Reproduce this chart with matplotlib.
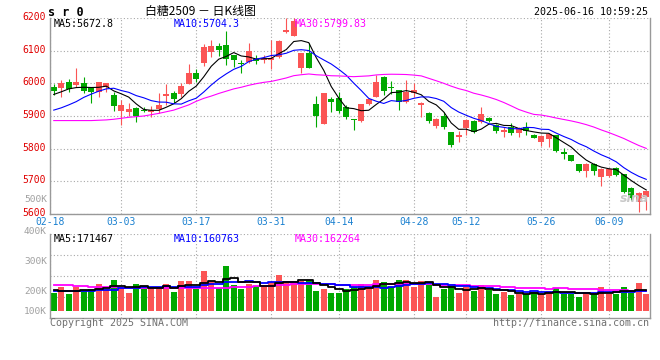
import numpy as np
import pandas as pd
import matplotlib
matplotlib.use("Agg")
import matplotlib.pyplot as plt
import matplotlib.transforms as mtrans

# ---------------- data ----------------
opens = [5990, 5987, 6003, 5996, 6001, 5988, 5972, 5988, 5964, 5915,
         5913, 5923, 5919, 5913, 5920, 5962, 5969, 5966, 5997, 6033,
         6062, 6097, 6115, 6117, 6087, 6063, 6064, 6076, 6071, 6072,
         6082, 6158, 6145, 6046, 6092, 5937, 5875, 5951, 5954, 5928,
         5892, 5886, 5937, 5959, 6019, 5989, 5980, 5944, 5969, 5933,
         5908, 5869, 5900, 5852, 5835, 5862, 5885, 5881, 5893, 5871,
         5852, 5867, 5849, 5865, 5842, 5819, 5830, 5842, 5790, 5780,
         5753, 5733, 5753, 5714, 5717, 5741, 5723, 5679, 5638, 5651]
highs = [5997, 6010, 6012, 6046, 6019, 5988, 6004, 6000, 5974, 5949,
         5939, 5928, 5928, 5932, 5969, 5997, 5976, 6002, 6059, 6043,
         6120, 6133, 6122, 6160, 6087, 6071, 6122, 6087, 6087, 6133,
         6133, 6200, 6200, 6092, 6122, 5961, 5969, 5959, 5974, 5934,
         5892, 5937, 5951, 6025, 6022, 6008, 5980, 6010, 6000, 5944,
         5913, 5893, 5913, 5852, 5855, 5890, 5888, 5929, 5898, 5875,
         5867, 5879, 5867, 5883, 5845, 5842, 5847, 5842, 5801, 5782,
         5753, 5755, 5755, 5740, 5740, 5743, 5723, 5684, 5668, 5670]
lows = [5964, 5959, 5975, 5990, 5969, 5941, 5959, 5972, 5915, 5872,
        5900, 5883, 5913, 5896, 5908, 5934, 5939, 5959, 5997, 6003,
        6053, 6082, 6085, 6055, 6051, 6032, 6061, 6059, 6062, 6043,
        6079, 6153, 6145, 6032, 6046, 5865, 5875, 5913, 5908, 5890,
        5857, 5883, 5934, 5957, 5964, 5968, 5918, 5939, 5959, 5896,
        5878, 5864, 5860, 5804, 5821, 5842, 5847, 5878, 5883, 5849,
        5837, 5842, 5835, 5842, 5832, 5808, 5804, 5791, 5769, 5762,
        5728, 5712, 5719, 5686, 5714, 5716, 5665, 5643, 5607, 5612]
closes = [5976, 6001, 5982, 6004, 5977, 5972, 6004, 6000, 5931, 5933,
          5921, 5900, 5915, 5918, 5933, 5968, 5953, 5993, 6031, 6013,
          6110, 6114, 6102, 6073, 6072, 6058, 6099, 6069, 6078, 6077,
          6130, 6163, 6192, 6092, 6046, 5900, 5969, 5944, 5916, 5896,
          5888, 5937, 5951, 6005, 5978, 5987, 5944, 5975, 5980, 5939,
          5886, 5890, 5867, 5811, 5842, 5888, 5852, 5906, 5886, 5855,
          5857, 5849, 5862, 5855, 5834, 5839, 5845, 5794, 5783, 5763,
          5733, 5752, 5731, 5739, 5738, 5719, 5668, 5648, 5663, 5670]
volumes = [148500, 198000, 140000, 198000, 169000, 181500, 223000, 181500, 256000, 198000,
           148500, 223000, 186000, 198000, 186000, 223000, 157000, 247500, 247500, 181500,
           330000, 247500, 190000, 371000, 214500, 181500, 223000, 206000, 198000, 239000,
           297000, 247500, 228500, 247500, 256000, 165000, 181500, 148500, 151000, 184000,
           198000, 223000, 187000, 256000, 239000, 202000, 256000, 256000, 200000, 247500,
           239000, 115500, 181500, 214500, 148500, 194000, 165000, 214500, 173000, 140000,
           157000, 132000, 142000, 142000, 155000, 142000, 161000, 188000, 144000, 144000,
           117000, 157000, 140000, 198000, 144000, 140000, 198000, 146000, 231000, 140000]

# moving-average values before a full window exists
price_ma5_warmup = [5966, 5974, 5983, 5987]
price_ma10_warmup = [5918, 5925, 5934, 5944, 5957, 5967, 5976, 5983, 5985]
price_ma30_warmup = [5886, 5886, 5886, 5886, 5886, 5886, 5887, 5888, 5890, 5893,
                     5896, 5898, 5900, 5904, 5908, 5913, 5918, 5926, 5934, 5945,
                     5954, 5961, 5969, 5976, 5983, 5988, 5994, 5999, 6003]
vol_ma5_warmup = [170000, 168000, 163000, 163000]
vol_ma10_warmup = [168000, 168000, 168000, 168000, 168000, 168000, 176000, 176000, 176000]
vol_ma30_warmup = [213000, 213000, 213000, 206000, 206000, 196000, 196000, 196000, 196000,
                   192000, 192000, 192000, 192000, 187000, 187000, 187000, 187000, 187000,
                   187000, 187000, 192000, 192000, 192000, 192000, 198000, 198000, 198000,
                   203000, 203000]

tick_idx = [0, 9, 19, 29, 38, 48, 55, 65, 74]
tick_labels = ["02-18", "03-03", "03-17", "03-31", "04-14", "04-28", "05-12", "05-26", "06-09"]
price_ticks = [5600, 5700, 5800, 5900, 6000, 6100, 6200]
vol_axis_labels = ["500K", "400K", "300K", "200K", "100K"]

title = "白糖2509 － 日K线图"
symbol = "s r 0"
stamp = "2025-06-16 10:59:25"
price_ma_labels = ["MA5:5672.8", "MA10:5704.3", "MA30:5799.83"]
vol_ma_labels = ["MA5:171467", "MA10:160763", "MA30:162264"]

# ---------------- styling ----------------
RED = "#fb5555"
GREEN = "#00a800"
MA_COLORS = ["#000000", "#0000ff", "#ff00ff"]
GRID = "#a8a8a8"
MONO = "DejaVu Sans Mono"
plt.rcParams["font.family"] = ["DejaVu Sans"]

W, H = 660, 360
fig = plt.figure(figsize=(W / 100, H / 100), dpi=100)
fig.patch.set_facecolor("white")


def rect(x0, y0, x1, y1):
    return [x0 / W, 1 - y1 / H, (x1 - x0) / W, (y1 - y0) / H]


def ftext(x, y, s, **kw):
    fig.text(x / W, 1 - y / H, s, **kw)


def moving_avg(vals, n, warm):
    s = pd.Series(vals, dtype=float).rolling(n).mean().to_numpy()
    s[:n - 1] = warm
    return s


ax = fig.add_axes(rect(50, 18, 650, 214))
axv = fig.add_axes(rect(50, 234, 650, 318))

n = len(closes)
x = np.arange(n)
o = np.array(opens, float)
h = np.array(highs, float)
l = np.array(lows, float)
c = np.array(closes, float)
v = np.array(volumes, float)
cols = np.where(c >= o, RED, GREEN)

grid_kw = dict(color=GRID, linestyle=(0, (1, 2)), linewidth=0.8)
tick_pos = [i if i > 0 else -0.5 for i in tick_idx]

for a in (ax, axv):
    a.set_xlim(-0.5, n - 0.5)
    a.spines["top"].set_visible(False)
    for s in ("left", "right", "bottom"):
        a.spines[s].set_color("#999999")
        a.spines[s].set_linewidth(1.0)
    a.set_xticks(tick_pos)
    a.xaxis.grid(True, **grid_kw)
    a.yaxis.grid(True, **grid_kw)
    a.set_axisbelow(True)
    a.tick_params(length=0)

# ---- price panel ----
ax.set_ylim(5600, 6200)
ax.set_yticks(price_ticks)
ax.set_yticklabels([str(t) for t in price_ticks], color="#e00000",
                   fontsize=7, family=MONO)
ax.set_xticklabels(tick_labels, color="#1a80d0", fontsize=7, family=MONO)
ax.tick_params(axis="y", pad=3)
ax.tick_params(axis="x", pad=2.5)
shift_up = mtrans.ScaledTranslation(0, 2 / 100, fig.dpi_scale_trans)
for lab in ax.get_yticklabels():
    lab.set_transform(lab.get_transform() + shift_up)

ax.vlines(x, l, h, colors=cols, linewidth=0.8, zorder=2)
body_bottom = np.minimum(o, c)
body_h = np.maximum(np.abs(c - o), 1.5)
ax.bar(x, body_h, bottom=body_bottom, width=0.8, color=cols, linewidth=0, zorder=2)

pm5 = moving_avg(closes, 5, price_ma5_warmup)
pm10 = moving_avg(closes, 10, price_ma10_warmup)
pm30 = moving_avg(closes, 30, price_ma30_warmup)
for m, col in zip((pm5, pm10, pm30), MA_COLORS):
    ax.plot(x, m, color=col, linewidth=0.8, zorder=3)

# ---- volume panel ----
vol_bottom, vol_top = -57750, 635250
axv.set_ylim(vol_bottom, vol_top)
q = (vol_top - vol_bottom) / 4
axv.set_yticks([vol_bottom + q, vol_bottom + 2 * q, vol_bottom + 3 * q, vol_top])
axv.set_yticklabels([])
axv.set_xticklabels([])
axv.bar(x, v, width=0.8, color=cols, linewidth=0, zorder=2)
vm5 = moving_avg(volumes, 5, vol_ma5_warmup)
vm10 = moving_avg(volumes, 10, vol_ma10_warmup)
vm30 = moving_avg(volumes, 30, vol_ma30_warmup)
for m, col in zip((vm30, vm10, vm5), MA_COLORS[::-1]):
    axv.plot(x, m, color=col, linewidth=1.3, drawstyle="steps-mid", zorder=3)

# ---- texts ----
ftext(48, 12, symbol, fontsize=8.5, family=MONO, fontweight="bold",
      ha="left", va="center")
ftext(200, 11, title, fontsize=8.6, family=["Noto Sans CJK SC", "DejaVu Sans"],
      ha="center", va="center")
ftext(648, 12, stamp, fontsize=7.2, family=MONO, ha="right", va="center")

for lab, col, xp in zip(price_ma_labels, MA_COLORS, (54, 174, 295)):
    ftext(xp, 24, lab, fontsize=7.2, family=MONO, color=col, ha="left", va="center")
for lab, col, xp in zip(vol_ma_labels, MA_COLORS, (54, 174, 295)):
    ftext(xp, 239, lab, fontsize=7.2, family=MONO, color=col, ha="left", va="center")

for lab, yp in zip(vol_axis_labels, (200, 231, 261, 291, 311)):
    ftext(47, yp, lab, fontsize=6.8, family=MONO, color="#a0a0a0", ha="right", va="center")

ftext(50, 323, "Copyright 2025 SINA.COM", fontsize=7.2, family=MONO,
      color="#707070", ha="left", va="center")
ftext(649, 323, "http://finance.sina.com.cn", fontsize=7.2, family=MONO,
      color="#707070", ha="right", va="center")

# faint watermark
ftext(634, 199, "sina", fontsize=9, fontweight="bold", style="italic",
      color="#c8c8c8", ha="center", va="center", zorder=0)

fig.savefig("out.png", dpi=100, facecolor="white")
